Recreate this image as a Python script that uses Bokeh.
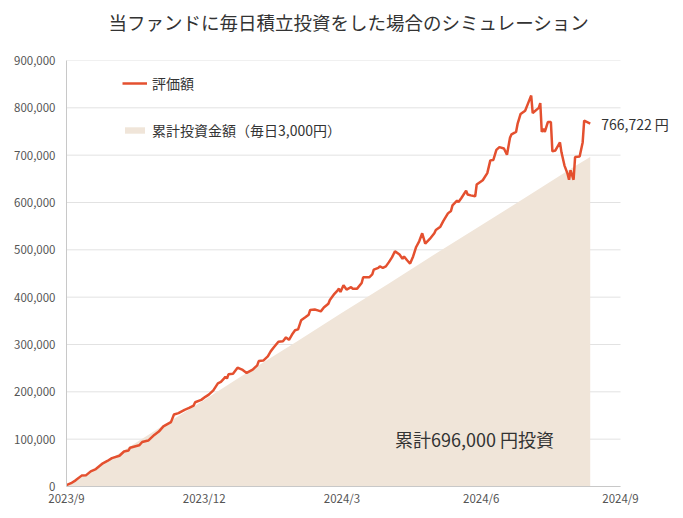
import pandas as pd
from bokeh.plotting import figure
from bokeh.models import (ColumnDataSource, Legend, LegendItem, Label, FixedTicker,
                          NumeralTickFormatter, Range1d, Title)
from bokeh.embed import file_html
from bokeh.resources import INLINE

FONT = "Noto Sans CJK JP"

# ---- data ----
val_dates = [
    "2023-09-01", "2023-09-04", "2023-09-07", "2023-09-11", "2023-09-14", "2023-09-17",
    "2023-09-20", "2023-09-25", "2023-09-28", "2023-10-01", "2023-10-06", "2023-10-09",
    "2023-10-12", "2023-10-13", "2023-10-19", "2023-10-21", "2023-10-25", "2023-10-29",
    "2023-11-01", "2023-11-04", "2023-11-09", "2023-11-11", "2023-11-14", "2023-11-18",
    "2023-11-21", "2023-11-24", "2023-11-25", "2023-11-29", "2023-12-02", "2023-12-04",
    "2023-12-07", "2023-12-10", "2023-12-12", "2023-12-14", "2023-12-15", "2023-12-16",
    "2023-12-17", "2023-12-20", "2023-12-23", "2023-12-26", "2023-12-29", "2024-01-02",
    "2024-01-05", "2024-01-06", "2024-01-09", "2024-01-12", "2024-01-14", "2024-01-16",
    "2024-01-19", "2024-01-22", "2024-01-24", "2024-01-26", "2024-01-28", "2024-01-30",
    "2024-02-01", "2024-02-03", "2024-02-06", "2024-02-08", "2024-02-09", "2024-02-12",
    "2024-02-14", "2024-02-16", "2024-02-18", "2024-02-21", "2024-02-22", "2024-02-25",
    "2024-02-27", "2024-02-28", "2024-02-29", "2024-03-02", "2024-03-04", "2024-03-07",
    "2024-03-08", "2024-03-11", "2024-03-14", "2024-03-15", "2024-03-19", "2024-03-21",
    "2024-03-22", "2024-03-25", "2024-03-26", "2024-03-28", "2024-03-30", "2024-04-01",
    "2024-04-03", "2024-04-05", "2024-04-08", "2024-04-10", "2024-04-11", "2024-04-13",
    "2024-04-15", "2024-04-17", "2024-04-19", "2024-04-21", "2024-04-23", "2024-04-25",
    "2024-04-28", "2024-05-01", "2024-05-02", "2024-05-05", "2024-05-07", "2024-05-10",
    "2024-05-12", "2024-05-13", "2024-05-16", "2024-05-17", "2024-05-19", "2024-05-22",
    "2024-05-23", "2024-05-25", "2024-05-28", "2024-05-29", "2024-06-02", "2024-06-05",
    "2024-06-07", "2024-06-09", "2024-06-11", "2024-06-13", "2024-06-16", "2024-06-18",
    "2024-06-20", "2024-06-21", "2024-06-24", "2024-06-25", "2024-06-27", "2024-06-30",
    "2024-07-02", "2024-07-04", "2024-07-05", "2024-07-09", "2024-07-10", "2024-07-11",
    "2024-07-12", "2024-07-13", "2024-07-15", "2024-07-17", "2024-07-18", "2024-07-20",
    "2024-07-23", "2024-07-24", "2024-07-26", "2024-07-28", "2024-07-29", "2024-07-30",
    "2024-08-01", "2024-08-02", "2024-08-05", "2024-08-07", "2024-08-08", "2024-08-12",
]
val_values = [
    3000, 7000, 13000, 23000, 24000, 32000,
    36000, 49000, 54000, 60000, 65000, 74000,
    76000, 82000, 87000, 94000, 97000, 109000,
    116000, 127000, 136000, 152000, 155000, 162000,
    166000, 171000, 178000, 183000, 190000, 194000,
    203000, 218000, 221000, 228000, 232000, 228000,
    237000, 238000, 251000, 247000, 240000, 247000,
    256000, 265000, 266000, 275000, 286000, 294000,
    306000, 307000, 315000, 310000, 321000, 330000,
    332000, 351000, 358000, 363000, 373000, 374000,
    372000, 370000, 378000, 386000, 394000, 407000,
    414000, 418000, 411000, 425000, 416000, 421000,
    418000, 418000, 430000, 442000, 442000, 448000,
    458000, 462000, 465000, 462000, 465000, 474000,
    484000, 497000, 490000, 481000, 486000, 478000,
    471000, 486000, 506000, 518000, 535000, 513000,
    523000, 535000, 542000, 549000, 561000, 577000,
    582000, 594000, 604000, 601000, 610000, 625000,
    617000, 615000, 613000, 638000, 647000, 662000,
    689000, 690000, 711000, 717000, 714000, 701000,
    737000, 744000, 749000, 766000, 787000, 794000,
    810000, 826000, 789000, 800000, 810000, 749000,
    756000, 749000, 770000, 770000, 708000, 710000,
    727000, 706000, 678000, 661000, 648000, 668000,
    648000, 696000, 697000, 727000, 773000, 766722,
]

inv_dates = ["2023-09-01", "2023-10-01", "2023-11-01", "2023-12-01", "2024-01-01",
             "2024-02-01", "2024-03-01", "2024-04-01", "2024-05-01", "2024-06-01",
             "2024-07-01", "2024-08-01", "2024-08-12"]
inv_values = [0, 60000, 123000, 183000, 246000, 308000, 367000, 429000, 490000,
              552000, 612000, 675000, 696000]

x_tick_dates = ["2023-09-01", "2023-12-01", "2024-03-01", "2024-06-01", "2024-09-01"]
x_tick_labels = ["2023/9", "2023/12", "2024/3", "2024/6", "2024/9"]
y_ticks = [0, 100000, 200000, 300000, 400000, 500000, 600000, 700000, 800000, 900000]

title_text = "当ファンドに毎日積立投資をした場合のシミュレーション"
legend_labels = ["評価額", "累計投資金額（毎日3,000円）"]
end_label = "766,722 円"
total_label = "累計696,000 円投資"

LINE_C = "#E4502F"
AREA_C = "#F0E5D9"

# ---- layout constants (pixels) ----
W, H = 683, 518
LEFT, TOP, BOTTOM = 66, 60, 32
AXIS_END_PX = 620          # where 2024/9 sits
FRAME_W = W - LEFT         # frame runs to the right edge so labels are not clipped

vdf = pd.DataFrame({"x": pd.to_datetime(val_dates), "y": val_values})
idf = pd.DataFrame({"x": pd.to_datetime(inv_dates), "y": inv_values})

x0 = pd.Timestamp(x_tick_dates[0])
x1 = pd.Timestamp(x_tick_dates[-1])
x_end = x0 + (x1 - x0) * (FRAME_W / (AXIS_END_PX - LEFT))

p = figure(width=W, height=H, x_axis_type="datetime",
           x_range=Range1d(x0, x_end), y_range=Range1d(0, 900000),
           output_backend="svg", toolbar_location=None,
           min_border_left=LEFT, min_border_right=0, min_border_top=TOP,
           min_border_bottom=BOTTOM)

# spacer panel between frame and title
p.add_layout(Title(text=" ", text_font_size="1px", standoff=18), "above")

p.title.text = title_text
p.title.align = "left"
p.title.offset = 42
p.title.text_font = FONT
p.title.text_font_size = "18.5px"
p.title.text_font_style = "normal"
p.title.text_color = "#333333"
p.title.standoff = 10

p.outline_line_color = None
p.background_fill_color = "white"
p.border_fill_color = "white"

# horizontal grid lines only up to the 2024/9 position
p.xgrid.grid_line_color = None
p.ygrid.grid_line_color = None
p.segment(x0=[x0] * len(y_ticks), x1=[x1] * len(y_ticks), y0=y_ticks, y1=y_ticks,
          line_color="#e2e2e2", line_width=1)

area = p.varea(x="x", y1=0, y2="y", source=ColumnDataSource(idf), fill_color=AREA_C)
line = p.line(x="x", y="y", source=ColumnDataSource(vdf), line_color=LINE_C, line_width=2.5)

# axes
tick_ms = [pd.Timestamp(d).value // 10**6 for d in x_tick_dates]
p.xaxis.ticker = FixedTicker(ticks=tick_ms)
p.xaxis.major_label_overrides = {t: l for t, l in zip(tick_ms, x_tick_labels)}
p.xaxis.bounds = (tick_ms[0], tick_ms[-1])
p.yaxis.ticker = FixedTicker(ticks=y_ticks)
p.yaxis.formatter = NumeralTickFormatter(format="0,0")

for ax in (p.xaxis[0], p.yaxis[0]):
    ax.axis_line_color = "#c8c8c8"
    ax.major_tick_line_color = None
    ax.minor_tick_line_color = None
    ax.major_label_text_font = FONT
    ax.major_label_text_font_size = "11.5px"
    ax.major_label_text_color = "#555555"
p.xaxis.major_tick_out = 0
p.xaxis.major_tick_in = 0
p.xaxis.major_label_standoff = 3
p.yaxis.major_label_standoff = 5

# legend
legend = Legend(items=[LegendItem(label=legend_labels[0], renderers=[line]),
                       LegendItem(label=legend_labels[1], renderers=[area])],
                location=(56, 346), orientation="vertical")
legend.padding = 0
legend.margin = 0
legend.border_line_color = None
legend.background_fill_alpha = 0
legend.glyph_width = 25
legend.glyph_height = 8
legend.label_height = 20
legend.spacing = 27
legend.label_standoff = 5
legend.label_text_font = FONT
legend.label_text_font_size = "14px"
legend.label_text_color = "#333333"
p.add_layout(legend)

# annotations
p.add_layout(Label(x=pd.Timestamp(val_dates[-1]), y=val_values[-1], text=end_label,
                   x_offset=11, text_baseline="middle", text_align="left",
                   text_font=FONT, text_font_size="14px", text_color="#333333"))
p.add_layout(Label(x=pd.Timestamp("2024-04-05"), y=101000, text=total_label,
                   text_baseline="middle", text_align="left",
                   text_font=FONT, text_font_size="18px", text_color="#333333"))

open("out.html", "w").write(file_html(p, INLINE))
